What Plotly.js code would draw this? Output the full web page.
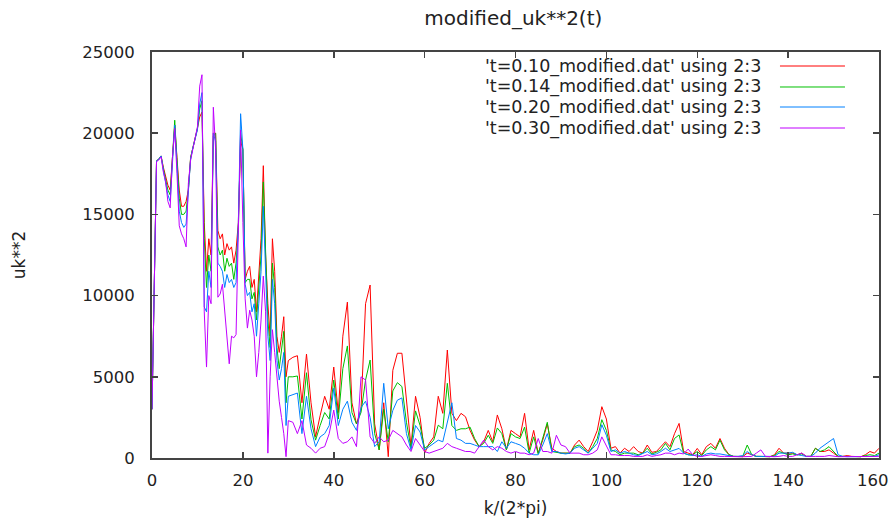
<!DOCTYPE html>
<html>
<head>
<meta charset="utf-8">
<script src="https://cdn.plot.ly/plotly-3.0.1.min.js"></script>
<style>html,body{margin:0;padding:0;background:#fff}#chart{width:893px;height:520px}</style>
</head>
<body>
<div id="chart"></div>
<script>
const k = [0,0.5,1,1.5,2,2.5,3,3.5,4,4.5,5,5.5,6,6.5,7,7.5,8,8.5,9,9.5,10,10.5,11,11.5,12,12.5,13,13.5,14,14.5,15,15.5,16,16.5,17,17.5,18,18.5,19,19.5,20,20.5,21,21.5,22,22.5,23,23.5,24,24.5,25,25.5,26,26.5,27,27.5,28,28.5,29,29.5,30,
31,32,33,34,35,36,37,38,39,40,41,42,43,44,45,46,47,48,49,50,51,52,53,54,55,56,57,58,59,60,
61,62,63,64,65,66,67,68,69,70,71,72,73,74,75,76,77,78,79,80,81,82,83,84,85,86,87,88,89,90,
91,92,93,94,95,96,97,98,99,100,101,102,103,104,105,106,107,108,109,110,111,112,113,114,115,116,117,118,119,120,
121,122,123,124,125,126,127,128,129,130,131,132,133,134,135,136,137,138,139,140,141,142,143,144,145,146,147,148,149,150,
151,152,153,154,155,156,157,158,159,160];

const seriesNames = ["'t=0.10_modified.dat' using 2:3","'t=0.14_modified.dat' using 2:3","'t=0.20_modified.dat' using 2:3","'t=0.30_modified.dat' using 2:3"];

const xTickVals = [0,20,40,60,80,100,120,140,160];
const xTickText = ['0','20','40','60','80','100','120','140','160'];
const yTickVals = [0,5000,10000,15000,20000,25000];
const yTickText = ['0','5000','10000','15000','20000','25000'];

const uk_t010 = [3000,12000,18300,18400,18600,17900,17300,16800,16500,18500,20500,18500,16500,15500,15500,15800,16500,18500,19200,19700,20300,21000,21300,14500,11500,13500,12500,20000,20000,14000,13500,13800,12500,13200,12800,13000,12000,12800,14500,19500,19000,11000,11500,11800,10500,11000,9000,11500,13500,18000,12500,9500,7500,13500,11500,7500,6500,7500,8700,5000,6000,
6200,6300,3400,6400,3400,1300,2600,3800,3000,5600,
2800,7500,9600,3400,2100,3000,9500,10650,2100,500,
3400,80,5400,6450,6450,3400,700,3800,2500,300,
900,1300,3800,2750,6650,2750,2300,2750,2540,1700,
1100,700,1000,1700,1000,2650,1800,500,1700,1500,
1300,2750,500,1700,300,1100,2100,600,400,300,
300,300,800,1100,700,400,1000,1700,3160,2400,
600,700,300,600,400,700,400,300,800,350,
400,700,1000,700,1500,2130,400,300,200,590,
200,700,900,600,1200,600,200,100,100,80,
300,200,100,100,80,80,200,600,300,300,
300,200,300,100,100,600,400,400,500,300,
100,100,150,100,80,80,200,400,300,600];

const uk_t014 = [3000,12000,18300,18400,18600,17800,17200,16500,16200,18800,20800,18300,16000,15000,15000,15200,16500,18500,19200,19700,20300,21500,22000,13500,10500,12500,11500,19800,20000,13000,12500,12800,11500,12300,11800,12000,11000,12000,14000,20000,19000,10800,11000,11000,9800,10200,8500,10500,12500,17000,12000,8500,6800,12000,10500,6800,5500,6500,7800,3400,5000,
5000,5050,2400,5250,2350,1100,2000,2800,2400,4800,
2400,5500,6900,2800,2100,2800,4800,6030,1500,500,
3000,1000,4130,4640,4400,2200,600,2900,2000,600,
800,1100,2020,1800,4600,2000,1700,1800,1800,1900,
1200,700,900,1400,900,1850,1500,500,1500,1300,
1200,1900,300,1300,250,1300,2200,400,350,300,
300,300,700,800,600,300,700,1200,2360,1700,
500,400,200,300,300,300,200,300,600,250,
350,500,900,500,1200,1420,300,200,200,400,
150,500,700,500,1100,500,200,100,100,100,
800,200,100,100,80,80,150,400,300,200,
250,200,250,100,100,600,400,500,700,400,
100,100,100,80,80,80,150,200,150,300];

const uk_t020 = [3000,12000,18300,18400,18600,17700,17000,16200,15800,18500,20500,18000,15200,14500,14200,14400,16300,18400,19100,19600,20200,21800,22500,9300,9000,11500,10500,20000,19500,12000,11800,11500,10500,11300,10800,11000,10500,10800,14500,21200,19000,10700,10000,10200,9000,9500,7500,9500,11500,15500,11500,7500,6000,11000,9500,6000,4800,5500,6500,2000,3800,
3900,4000,1500,3800,1800,700,1300,1500,2000,4300,
2000,3000,3500,2200,1700,3100,3500,2500,700,1000,
4600,1800,2930,3560,3700,1500,500,2000,1600,500,
700,900,1100,1000,2160,3400,1200,1100,900,900,
800,700,700,700,700,400,1000,600,1000,900,
800,600,300,200,200,800,1500,400,400,300,
250,300,600,700,500,300,600,900,2050,1400,
400,500,300,400,300,200,150,300,400,200,
250,400,600,400,500,590,300,200,150,200,
100,250,300,250,250,200,150,100,100,150,
400,200,100,100,80,80,100,300,300,300,
350,200,150,100,100,300,600,800,1000,1200,
200,100,80,80,80,80,100,100,100,200];

const uk_t030 = [3000,12000,18250,18350,18550,17600,17000,15800,15400,18500,20300,17500,14300,13800,13500,13000,16900,18350,19100,19700,20400,22900,23600,9000,5600,10000,9500,21600,19000,9900,10100,10700,9200,7500,5800,7500,7400,7600,14000,20200,14500,9800,8000,9100,8500,7500,5000,6500,8500,11200,9000,300,5000,7900,6500,4900,3500,2500,1500,80,2300,
2200,1500,2300,800,600,300,600,700,1500,2950,
1200,900,1000,1300,700,5000,4800,1300,900,1300,
1000,1100,1700,1500,1300,800,400,1200,800,400,
300,400,500,600,900,700,600,500,400,400,
300,700,1100,700,500,700,600,400,300,400,
300,300,200,300,1200,400,400,300,1400,800,
700,300,300,300,200,200,300,500,1300,700,
200,200,150,150,150,100,100,100,200,100,
150,200,300,300,200,300,250,550,200,100,
100,150,200,150,100,100,80,80,80,80,
80,100,300,500,100,80,80,100,150,100,
100,200,300,100,80,100,100,100,150,100,
80,80,80,80,80,80,80,80,80,100];

const colors = ['#ff0000','#00c000','#0080ff','#c000ff'];
const seriesValues = [uk_t010, uk_t014, uk_t020, uk_t030];

const FONT = 'DejaVu Sans, Liberation Sans, sans-serif';
const TXT = '#222';

const traces = seriesValues.map((v, i) => ({
  type: 'scatter', mode: 'lines', x: k, y: v, name: seriesNames[i],
  line: {color: colors[i], width: 1}, showlegend: false, hoverinfo: 'x+y+name'
}));

// legend drawn gnuplot-style: text then line sample on the right
const legY = [0.9655, 0.9138, 0.8645, 0.8128];
const annotations = seriesNames.map((n, i) => ({
  xref: 'paper', yref: 'paper', x: 0.8404, y: legY[i], xanchor: 'right', yanchor: 'middle',
  text: n, showarrow: false, font: {family: FONT, size: 17.5, color: TXT}
}));
// last x tick label, nudged left so it stays inside the figure (as gnuplot does)
const lastIdx = xTickVals.length - 1;
annotations.push({
  xref: 'x', yref: 'paper', x: xTickVals[lastIdx], y: 0, xanchor: 'right', yanchor: 'middle',
  xshift: 12, yshift: -22, text: xTickText[lastIdx], showarrow: false,
  font: {family: FONT, size: 16.5, color: TXT}
});
const shapes = seriesNames.map((n, i) => ({
  type: 'line', xref: 'paper', yref: 'paper', x0: 0.8638, x1: 0.9532, y0: legY[i], y1: legY[i],
  line: {color: colors[i], width: 1}
}));

const axisCommon = {
  showline: true, linecolor: '#444', linewidth: 2, mirror: 'ticks',
  ticks: 'inside', ticklen: 6, tickwidth: 1.5, tickcolor: '#444',
  showgrid: false, zeroline: false
};

const layout = {
  width: 893, height: 520,
  margin: {l: 152, r: 14, t: 52, b: 62},
  paper_bgcolor: '#fff', plot_bgcolor: '#fff',
  showlegend: false,
  title: {text: 'modified_uk**2(t)', font: {family: FONT, size: 20, color: TXT},
          xref: 'paper', x: 0.497, xanchor: 'center', yref: 'container', y: 0.965, yanchor: 'middle'},
  xaxis: Object.assign({}, axisCommon, {
    range: [0, 160], tickmode: 'array', tickvals: xTickVals,
    ticktext: xTickText.map((t, i) => i === lastIdx ? '' : t), ticklabelstandoff: 6,
    tickfont: {family: FONT, size: 16.5, color: TXT},
    title: {text: 'k/(2*pi)', font: {family: FONT, size: 17, color: TXT}, standoff: 13}
  }),
  yaxis: Object.assign({}, axisCommon, {
    range: [0, 25000], tickmode: 'array', tickvals: yTickVals, ticktext: yTickText, ticklabelstandoff: 12,
    tickfont: {family: FONT, size: 16.5, color: TXT},
    title: {text: 'uk**2', font: {family: FONT, size: 17, color: TXT}, standoff: 52}
  }),
  annotations: annotations,
  shapes: shapes
};

Plotly.newPlot('chart', traces, layout, {staticPlot: true, displayModeBar: false});
</script>
</body>
</html>
